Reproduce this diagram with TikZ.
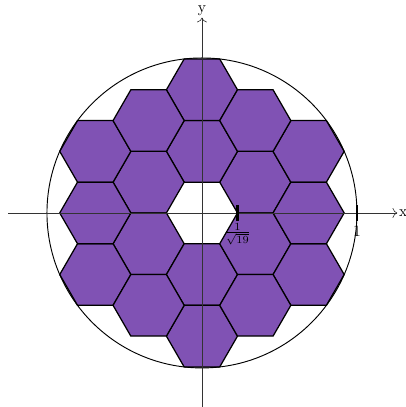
\documentclass[tikz,border=0pt]{standalone}
\usetikzlibrary{arrows.meta,calc}
\definecolor{mirror}{RGB}{128,82,180}
\tikzset{hexcell/.style={fill=mirror, draw=black, thick, line join=miter},
  axisline/.style={-{To[length=3pt]}, draw=black!80, thin},
  tickmark/.style={line width=1.6pt}}

\begin{document}
\begin{tikzpicture}[x=3.5cm, y=3.5cm]
  \useasboundingbox (-1.303,-1.252) rectangle (1.316,1.374);
  \pgfmathsetmacro{\r}{1/sqrt(19)}
  % segments: ring 1 and ring 2 round the empty centre
  \foreach \a in {30,90,...,330}{
    \foreach \d in {1,2}{
      \coordinate (c) at (\a:{\d*sqrt(3)*\r});
      \draw[hexcell] ($(c)+(0:\r)$) -- ($(c)+(60:\r)$) -- ($(c)+(120:\r)$)
        -- ($(c)+(180:\r)$) -- ($(c)+(240:\r)$) -- ($(c)+(300:\r)$) -- cycle;}}
  \foreach \a in {0,60,...,300}{
    \coordinate (c) at (\a:{3*\r});
    \draw[hexcell] ($(c)+(0:\r)$) -- ($(c)+(60:\r)$) -- ($(c)+(120:\r)$)
      -- ($(c)+(180:\r)$) -- ($(c)+(240:\r)$) -- ($(c)+(300:\r)$) -- cycle;}
  % enclosing circle
  \draw[semithick] (0,0) circle (1);
  % axes
  \coordinate (xs) at (-1.25,0);
  \coordinate (xe) at (1.26,0);
  \coordinate (ys) at (0,-1.25);
  \coordinate (ye) at (0,1.26);
  \draw[axisline] (xs) -- (xe) node[right, inner sep=1pt, text=black] (xlab) {x};
  \draw[axisline] (ys) -- (ye) node[above, inner sep=1pt, text=black] (ylab) {y};
  % ticks
  \coordinate (ta) at (\r,0);
  \coordinate (tb) at (1,0);
  \draw[tickmark] ($(ta)+(0,0.05)$) -- ($(ta)+(0,-0.05)$) node[below, inner sep=1pt] (talab) {$\frac{1}{\sqrt{19}}$};
  \draw[tickmark] ($(tb)+(0,0.05)$) -- ($(tb)+(0,-0.05)$) node[below, inner sep=3pt] (tblab) {1};
\end{tikzpicture}
\end{document}
